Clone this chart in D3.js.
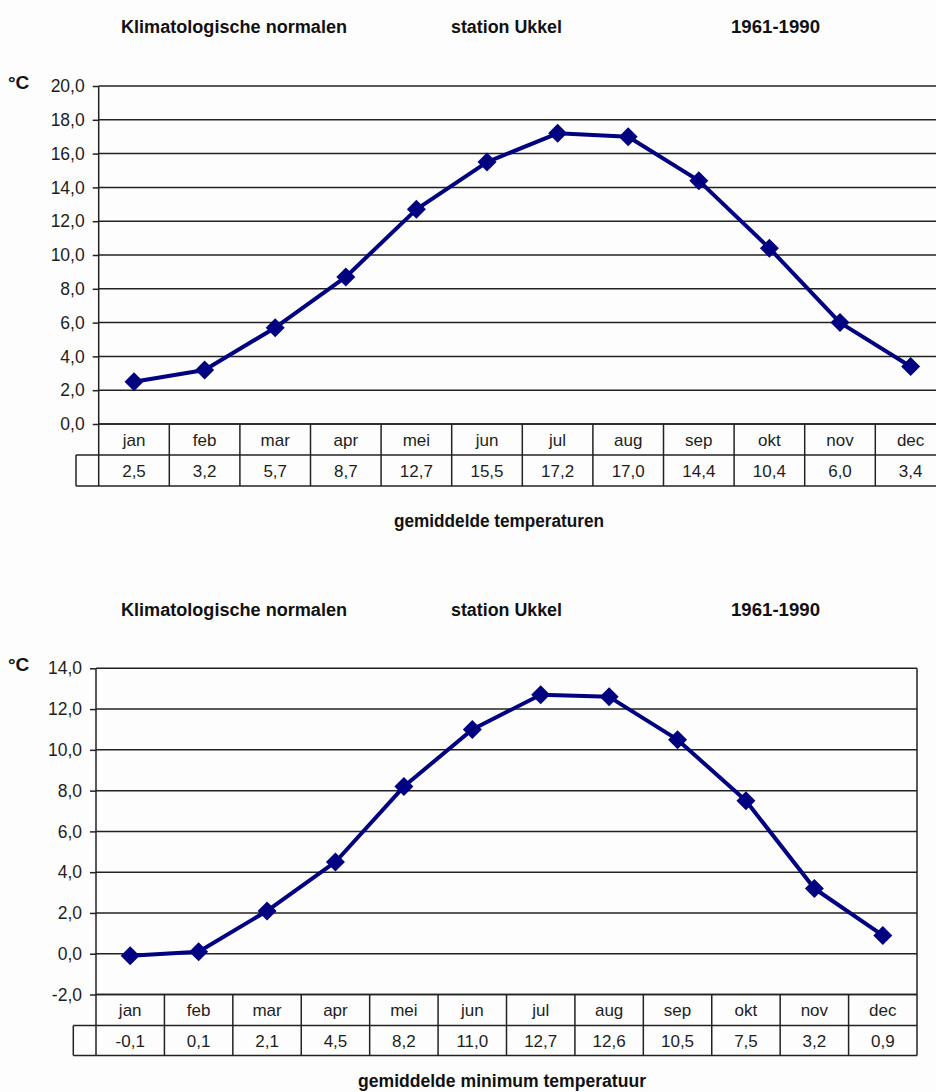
<!DOCTYPE html>
<html>
<head>
<meta charset="utf-8">
<script src="https://cdn.jsdelivr.net/npm/d3@7"></script>
<style>
  html, body { margin: 0; padding: 0; background: #fdfdfd; }
  svg { display: block; }
</style>
</head>
<body>
<svg id="chart" width="936" height="1092"></svg>
<script>
// ---- data ----
const months = ['jan','feb','mar','apr','mei','jun','jul','aug','sep','okt','nov','dec'];
const meanTemp = [2.5, 3.2, 5.7, 8.7, 12.7, 15.5, 17.2, 17.0, 14.4, 10.4, 6.0, 3.4];
const minTemp = [-0.1, 0.1, 2.1, 4.5, 8.2, 11.0, 12.7, 12.6, 10.5, 7.5, 3.2, 0.9];
const meanTicks = [0, 2, 4, 6, 8, 10, 12, 14, 16, 18, 20];
const minTicks = [-2, 0, 2, 4, 6, 8, 10, 12, 14];
const headerTexts = ['Klimatologische normalen', 'station Ukkel', '1961-1990'];
const unitLabel = '°C';
const meanTitle = 'gemiddelde temperaturen';
const minTitle = 'gemiddelde minimum temperatuur';

const svg = d3.select('#chart');
const fmt = v => d3.format('.1f')(v).replace('.', ',').replace('\u2212', '-');
const GRID = '#222';
const NAVY = '#000080';
const TXT = '#1e1e1e';
const regFont = 'Liberation Sans, Arial, sans-serif';

function drawChart(cfg) {
  const g = svg.append('g');
  const x = d3.scaleBand().domain(months).range([cfg.left, cfg.right]).padding(0);
  const y = d3.scaleLinear().domain(cfg.domain).range([cfg.bottom, cfg.top]);

  // header texts
  const hx = [121, 451, 731];
  g.selectAll('text.hdr').data(headerTexts).join('text')
    .attr('class', 'hdr')
    .attr('x', (d, i) => hx[i]).attr('y', cfg.headerY)
    .attr('font-family', regFont).attr('font-weight', 'bold')
    .attr('font-size', 17.5).attr('fill', '#111')
    .attr('textLength', (d, i) => [226, 111, 89][i]).attr('lengthAdjust', 'spacingAndGlyphs')
    .text(d => d);

  // unit label
  g.append('text').attr('x', 8).attr('y', cfg.top + 3)
    .attr('font-family', regFont).attr('font-weight', 'bold')
    .attr('font-size', 19).attr('fill', '#111').text(unitLabel);

  // gridlines
  g.selectAll('line.grid').data(cfg.ticks).join('line')
    .attr('x1', cfg.left).attr('x2', cfg.right)
    .attr('y1', d => y(d)).attr('y2', d => y(d))
    .attr('stroke', GRID).attr('stroke-width', 1.5);

  // y axis
  const axis = d3.axisLeft(y).tickValues(cfg.ticks).tickFormat(fmt).tickSize(6).tickPadding(8);
  const ag = g.append('g').attr('transform', `translate(${cfg.left},0)`).call(axis);
  ag.select('.domain').remove();
  ag.selectAll('.tick line').attr('stroke', GRID).attr('stroke-width', 1.5);
  ag.selectAll('.tick text').attr('font-family', regFont).attr('font-size', 17.5)
    .attr('fill', TXT);

  // table
  const row1 = cfg.bottom, row2 = cfg.bottom + cfg.rowH1, row3 = row2 + cfg.rowH2;
  g.append('line').attr('x1', cfg.left).attr('x2', cfg.left)
    .attr('y1', cfg.top).attr('y2', row3).attr('stroke', GRID).attr('stroke-width', 1.5);
  g.append('line').attr('x1', cfg.right).attr('x2', cfg.right)
    .attr('y1', cfg.top).attr('y2', row3).attr('stroke', GRID).attr('stroke-width', 1.5);
  [[cfg.left, row1], [cfg.extraLeft, row2], [cfg.extraLeft, row3]].forEach(([x0, yy]) => {
    g.append('line').attr('x1', x0).attr('x2', cfg.right)
      .attr('y1', yy).attr('y2', yy).attr('stroke', GRID).attr('stroke-width', 1.5);
  });
  g.append('line').attr('x1', cfg.extraLeft).attr('x2', cfg.extraLeft)
    .attr('y1', row2).attr('y2', row3).attr('stroke', GRID).attr('stroke-width', 1.5);
  g.selectAll('line.col').data(months.slice(1)).join('line')
    .attr('x1', d => x(d)).attr('x2', d => x(d))
    .attr('y1', row1).attr('y2', row3)
    .attr('stroke', GRID).attr('stroke-width', 1.5);
  g.selectAll('text.mon').data(months).join('text')
    .attr('x', d => x(d) + x.bandwidth() / 2).attr('y', row1 + cfg.rowH1 / 2 + 6)
    .attr('text-anchor', 'middle').attr('font-family', regFont).attr('font-size', 17)
    .attr('fill', TXT).text(d => d);
  g.selectAll('text.val').data(cfg.values).join('text')
    .attr('x', (d, i) => x(months[i]) + x.bandwidth() / 2).attr('y', row2 + cfg.rowH2 / 2 + 6)
    .attr('text-anchor', 'middle').attr('font-family', regFont).attr('font-size', 17)
    .attr('fill', TXT).text(d => fmt(d));

  // line
  const line = d3.line().x((d, i) => x(months[i]) + x.bandwidth() / 2).y(d => y(d));
  g.append('path').datum(cfg.values).attr('d', line)
    .attr('fill', 'none').attr('stroke', NAVY).attr('stroke-width', 4)
    .attr('stroke-linejoin', 'round');
  const r = 9.5;
  g.selectAll('path.mk').data(cfg.values).join('path')
    .attr('transform', (d, i) => `translate(${x(months[i]) + x.bandwidth() / 2},${y(d)})`)
    .attr('d', `M0,${-r}L${r},0L0,${r}L${-r},0Z`).attr('fill', NAVY);

  // footer title
  g.append('text').attr('x', cfg.footX).attr('y', cfg.footY)
    .attr('text-anchor', 'middle').attr('font-family', regFont).attr('font-weight', 'bold')
    .attr('font-size', 17.5).attr('fill', '#111')
    .attr('textLength', cfg.footLen).attr('lengthAdjust', 'spacingAndGlyphs')
    .text(cfg.footer);
}

drawChart({
  left: 98.7, right: 945.9, top: 86, bottom: 424, domain: [0, 20], ticks: meanTicks,
  rowH1: 31, rowH2: 31, extraLeft: 76, values: meanTemp,
  headerY: 33, footer: meanTitle, footX: 499, footY: 527, footLen: 210
});
drawChart({
  left: 96, right: 917, top: 668.3, bottom: 994.5, domain: [-2, 14], ticks: minTicks,
  rowH1: 31, rowH2: 30, extraLeft: 73.3, values: minTemp,
  headerY: 616, footer: minTitle, footX: 502, footY: 1087, footLen: 288
});
</script>
</body>
</html>
